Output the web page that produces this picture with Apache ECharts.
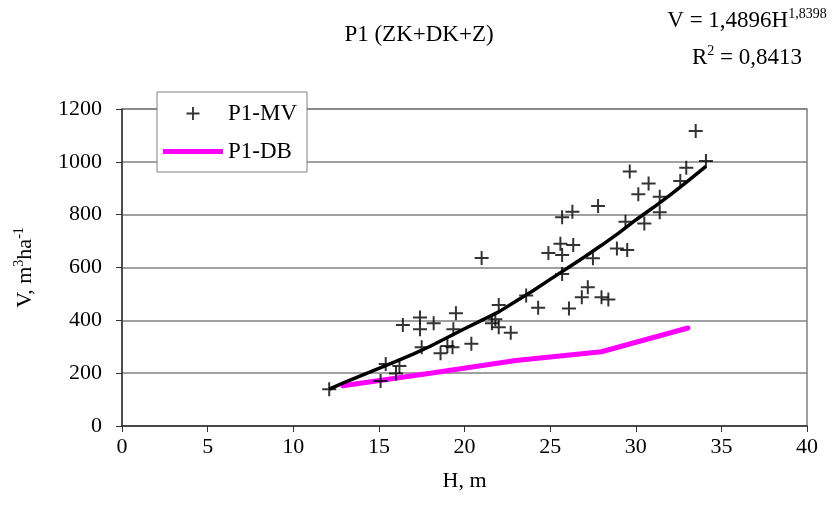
<!DOCTYPE html>
<html><head><meta charset="utf-8">
<script src="https://cdn.jsdelivr.net/npm/echarts@6/dist/echarts.min.js"></script>
<style>html,body{margin:0;padding:0;background:#fff}#c{width:833px;height:517px}</style>
</head><body><div id="c"></div>
<script>
// P1-MV measured points [H, V]
const mvH = [12.1,15.1,15.4,16.0,16.2,16.4,17.4,17.4,17.5,18.2,18.6,19.0,19.3,19.35,19.5,20.4,21.0,21.6,21.8,22.0,22.0,22.7,23.6,24.3,24.9,25.6,25.7,25.7,25.7,26.1,26.3,26.35,26.85,27.2,27.5,27.8,28.0,28.4,28.9,29.4,29.5,29.65,30.15,30.5,30.75,31.4,31.4,32.6,32.95,33.5,34.1];
const mvV = [139,170,235,199,227,382,411,366,298,389,275,303,298,366,427,311,636,389,404,374,458,353,494,448,655,690,790,647,575,445,811,685,487,525,635,833,487,479,672,773,666,963,877,767,918,868,809,927,978,1117,1003];
// fitted trend
const fitH = [12.1,13,14,15,16,17,18,19,20,21,22,23,24,25,26,27,28,29,30,31,32,33,34.1];
const fitV = [140,165,192,218,245,272,302,335,368,400,432,472,512,555,597,640,684,730,780,826,874,925,983];
// P1-DB
const dbH = [12.9,18,23,28,33.05];
const dbV = [152,200,248,281,371];
const xTicks = {min:0,max:40,interval:5};
const yTicks = {min:0,max:1200,interval:200};

const FONT = 'Liberation Serif';
const plus = 'path://M6,0H8V6H14V8H8V14H6V8H0V6H6Z';
const bar = 'path://M0,0H60V5H0Z';
const zip = (a,b)=>a.map((v,i)=>[v,b[i]]);

const chart = echarts.init(document.getElementById('c'));
chart.setOption({
  animation:false,
  textStyle:{fontFamily:FONT,color:'#000'},
  title:[
    {text:'P1 (ZK+DK+Z)',left:414,top:18,textAlign:'center',textStyle:{fontFamily:FONT,fontSize:23,fontWeight:'normal',color:'#000'}}
  ],
  graphic:[
    {type:'text',x:747,y:35,style:{text:'{m|V = 1,4896H}{s|1,8398}',align:'center',verticalAlign:'bottom',fill:'#000',
      rich:{m:{fontSize:23,fontFamily:FONT,fill:'#000'},s:{fontSize:14,fontFamily:FONT,fill:'#000',padding:[0,0,14,0]}}}},
    {type:'text',x:747,y:72,style:{text:'{m|R}{s|2}{m| = 0,8413}',align:'center',verticalAlign:'bottom',fill:'#000',
      rich:{m:{fontSize:23,fontFamily:FONT,fill:'#000'},s:{fontSize:14,fontFamily:FONT,fill:'#000',padding:[0,0,14,0]}}}}
  ],
  grid:{left:122,right:26,top:109,bottom:91,show:true,borderColor:'#808080',borderWidth:1.5,containLabel:false},
  legend:{
    left:157,top:92,orient:'vertical',itemWidth:60,itemHeight:13,itemGap:15,
    padding:[10,10,9,6],backgroundColor:'#fff',borderColor:'#808080',borderWidth:1,borderRadius:0,
    textStyle:{fontFamily:FONT,fontSize:23,color:'#000'},
    data:[{name:'P1-MV',icon:plus},{name:'P1-DB',icon:bar}]
  },
  xAxis:{type:'value',min:xTicks.min,max:xTicks.max,interval:xTicks.interval,
    name:'H, m',nameLocation:'middle',nameGap:44,nameTextStyle:{fontFamily:FONT,fontSize:22,color:'#000'},
    axisLine:{lineStyle:{color:'#333',width:1.5}},axisTick:{show:true,length:6,lineStyle:{color:'#333'}},
    axisLabel:{fontFamily:FONT,fontSize:22,color:'#000',margin:10},splitLine:{show:false}},
  yAxis:{type:'value',min:yTicks.min,max:yTicks.max,interval:yTicks.interval,
    name:'{a|V, m}{b|3}{a|ha}{b|-1}',nameLocation:'middle',nameGap:84,
    nameTextStyle:{fontFamily:FONT,fontSize:22,color:'#000',
      rich:{a:{fontFamily:FONT,fontSize:22,color:'#000'},b:{fontFamily:FONT,fontSize:14,color:'#000',padding:[0,0,12,0]}}},
    axisLine:{show:true,lineStyle:{color:'#333',width:1.5}},axisTick:{show:true,length:6,lineStyle:{color:'#333'}},
    axisLabel:{fontFamily:FONT,fontSize:22,color:'#000',margin:20,formatter:v=>String(v)},
    splitLine:{show:true,lineStyle:{color:'#808080',width:1.5}}},
  series:[
    {name:'P1-MV',type:'scatter',data:zip(mvH,mvV),symbol:plus,symbolSize:14,itemStyle:{color:'#000'},z:3},
    {name:'fit',type:'line',data:zip(fitH,fitV),symbol:'none',smooth:false,lineStyle:{color:'#000',width:3.5},z:4},
    {name:'P1-DB',type:'line',data:zip(dbH,dbV),symbol:'none',lineStyle:{color:'#ff00ff',width:5,cap:'round'},itemStyle:{color:'#ff00ff'},z:2}
  ]
});
</script></body></html>
